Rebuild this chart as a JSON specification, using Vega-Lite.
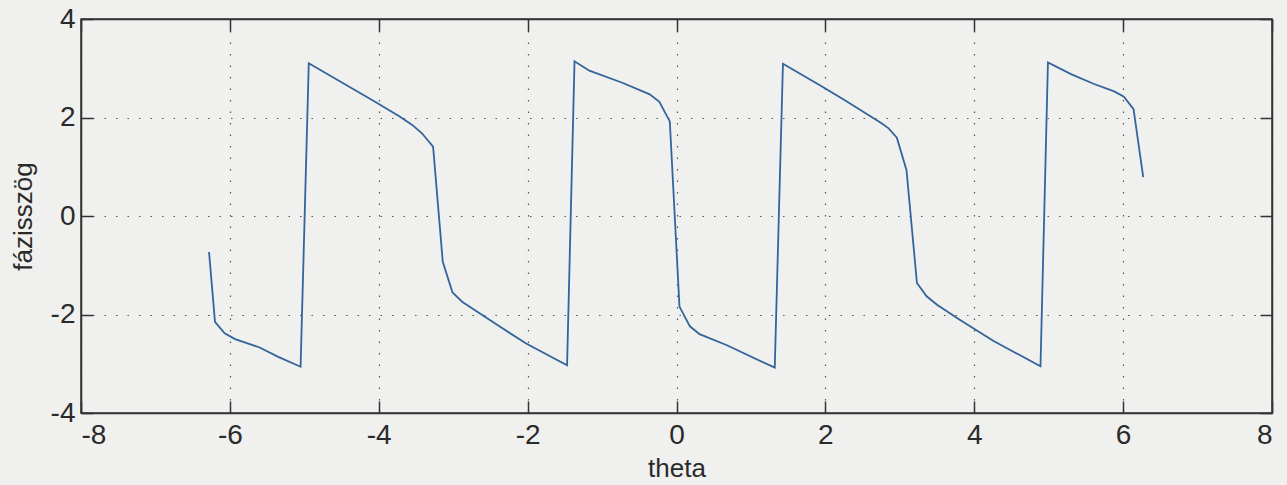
{
  "$schema": "https://vega.github.io/schema/vega-lite/v6.json",
  "width": 1191,
  "height": 394,
  "autosize": {"type": "none"},
  "padding": {"left": 81, "top": 19, "right": 15, "bottom": 72},
  "background": "#f0f0ee",
  "config": {
    "view": {"stroke": "#333333", "strokeWidth": 1.5, "fill": "#f0f0ee"},
    "axis": {
      "labelFont": "Liberation Sans",
      "titleFont": "Liberation Sans",
      "labelFontSize": 28,
      "titleFontSize": 26,
      "labelColor": "#2a2a2a",
      "titleColor": "#2a2a2a",
      "titleFontWeight": "normal",
      "domainColor": "#333333",
      "domainWidth": 1.5,
      "tickColor": "#333333",
      "tickWidth": 1.5,
      "tickSize": -12,
      "gridColor": "#555555",
      "gridDash": [1.5, 10],
      "gridWidth": 1.2,
      "labelExpr": "toString(datum.value)"
    }
  },
  "data": {
    "values": [
      {"theta": -6.28, "phase": -0.73},
      {"theta": -6.20, "phase": -2.15},
      {"theta": -6.07, "phase": -2.38},
      {"theta": -5.93, "phase": -2.50},
      {"theta": -5.60, "phase": -2.67},
      {"theta": -5.35, "phase": -2.86},
      {"theta": -5.05, "phase": -3.06},
      {"theta": -4.94, "phase": 3.10},
      {"theta": -4.05, "phase": 2.32},
      {"theta": -3.73, "phase": 2.03},
      {"theta": -3.55, "phase": 1.85},
      {"theta": -3.42, "phase": 1.68},
      {"theta": -3.27, "phase": 1.41},
      {"theta": -3.14, "phase": -0.93},
      {"theta": -3.01, "phase": -1.55},
      {"theta": -2.88, "phase": -1.74},
      {"theta": -2.39, "phase": -2.23},
      {"theta": -2.02, "phase": -2.59},
      {"theta": -1.47, "phase": -3.03},
      {"theta": -1.37, "phase": 3.14},
      {"theta": -1.17, "phase": 2.95},
      {"theta": -0.72, "phase": 2.70},
      {"theta": -0.36, "phase": 2.47},
      {"theta": -0.23, "phase": 2.32},
      {"theta": -0.09, "phase": 1.92},
      {"theta": 0.04, "phase": -1.84},
      {"theta": 0.18, "phase": -2.24},
      {"theta": 0.31, "phase": -2.40},
      {"theta": 0.67, "phase": -2.62},
      {"theta": 1.32, "phase": -3.08},
      {"theta": 1.43, "phase": 3.09},
      {"theta": 1.92, "phase": 2.66},
      {"theta": 2.24, "phase": 2.37},
      {"theta": 2.76, "phase": 1.88},
      {"theta": 2.85, "phase": 1.78},
      {"theta": 2.96, "phase": 1.59},
      {"theta": 3.09, "phase": 0.93},
      {"theta": 3.23, "phase": -1.36},
      {"theta": 3.36, "phase": -1.63},
      {"theta": 3.50, "phase": -1.80},
      {"theta": 3.81, "phase": -2.11},
      {"theta": 4.26, "phase": -2.54},
      {"theta": 4.89, "phase": -3.05},
      {"theta": 4.99, "phase": 3.12},
      {"theta": 5.30, "phase": 2.88},
      {"theta": 5.61, "phase": 2.68},
      {"theta": 5.88, "phase": 2.53},
      {"theta": 6.01, "phase": 2.42},
      {"theta": 6.14, "phase": 2.17},
      {"theta": 6.27, "phase": 0.79}
    ]
  },
  "layer": [
    {
      "mark": {"type": "line", "strokeOpacity": 0},
      "encoding": {
        "x": {"field": "theta", "type": "quantitative", "scale": {"domain": [-8, 8], "nice": false},
              "axis": {"orient": "top", "values": [-8, -6, -4, -2, 0, 2, 4, 6, 8], "labels": false, "title": null, "grid": false}},
        "y": {"field": "phase", "type": "quantitative", "scale": {"domain": [-4, 4], "nice": false},
              "axis": {"orient": "right", "values": [-4, -2, 0, 2, 4], "labels": false, "title": null, "grid": false}}
      }
    },
    {
      "mark": {"type": "line", "color": "#33649a", "strokeWidth": 1.8},
      "encoding": {
        "x": {"field": "theta", "type": "quantitative", "scale": {"domain": [-8, 8], "nice": false},
              "axis": {"orient": "bottom", "values": [-8, -6, -4, -2, 0, 2, 4, 6, 8], "title": "theta", "labelPadding": 20, "titlePadding": 6, "grid": true}},
        "y": {"field": "phase", "type": "quantitative", "scale": {"domain": [-4, 4], "nice": false},
              "axis": {"orient": "left", "values": [-4, -2, 0, 2, 4], "title": "fázisszög", "labelPadding": 18, "titlePadding": 14, "grid": true}}
      }
    }
  ],
  "resolve": {"axis": {"x": "independent", "y": "independent"}}
}
